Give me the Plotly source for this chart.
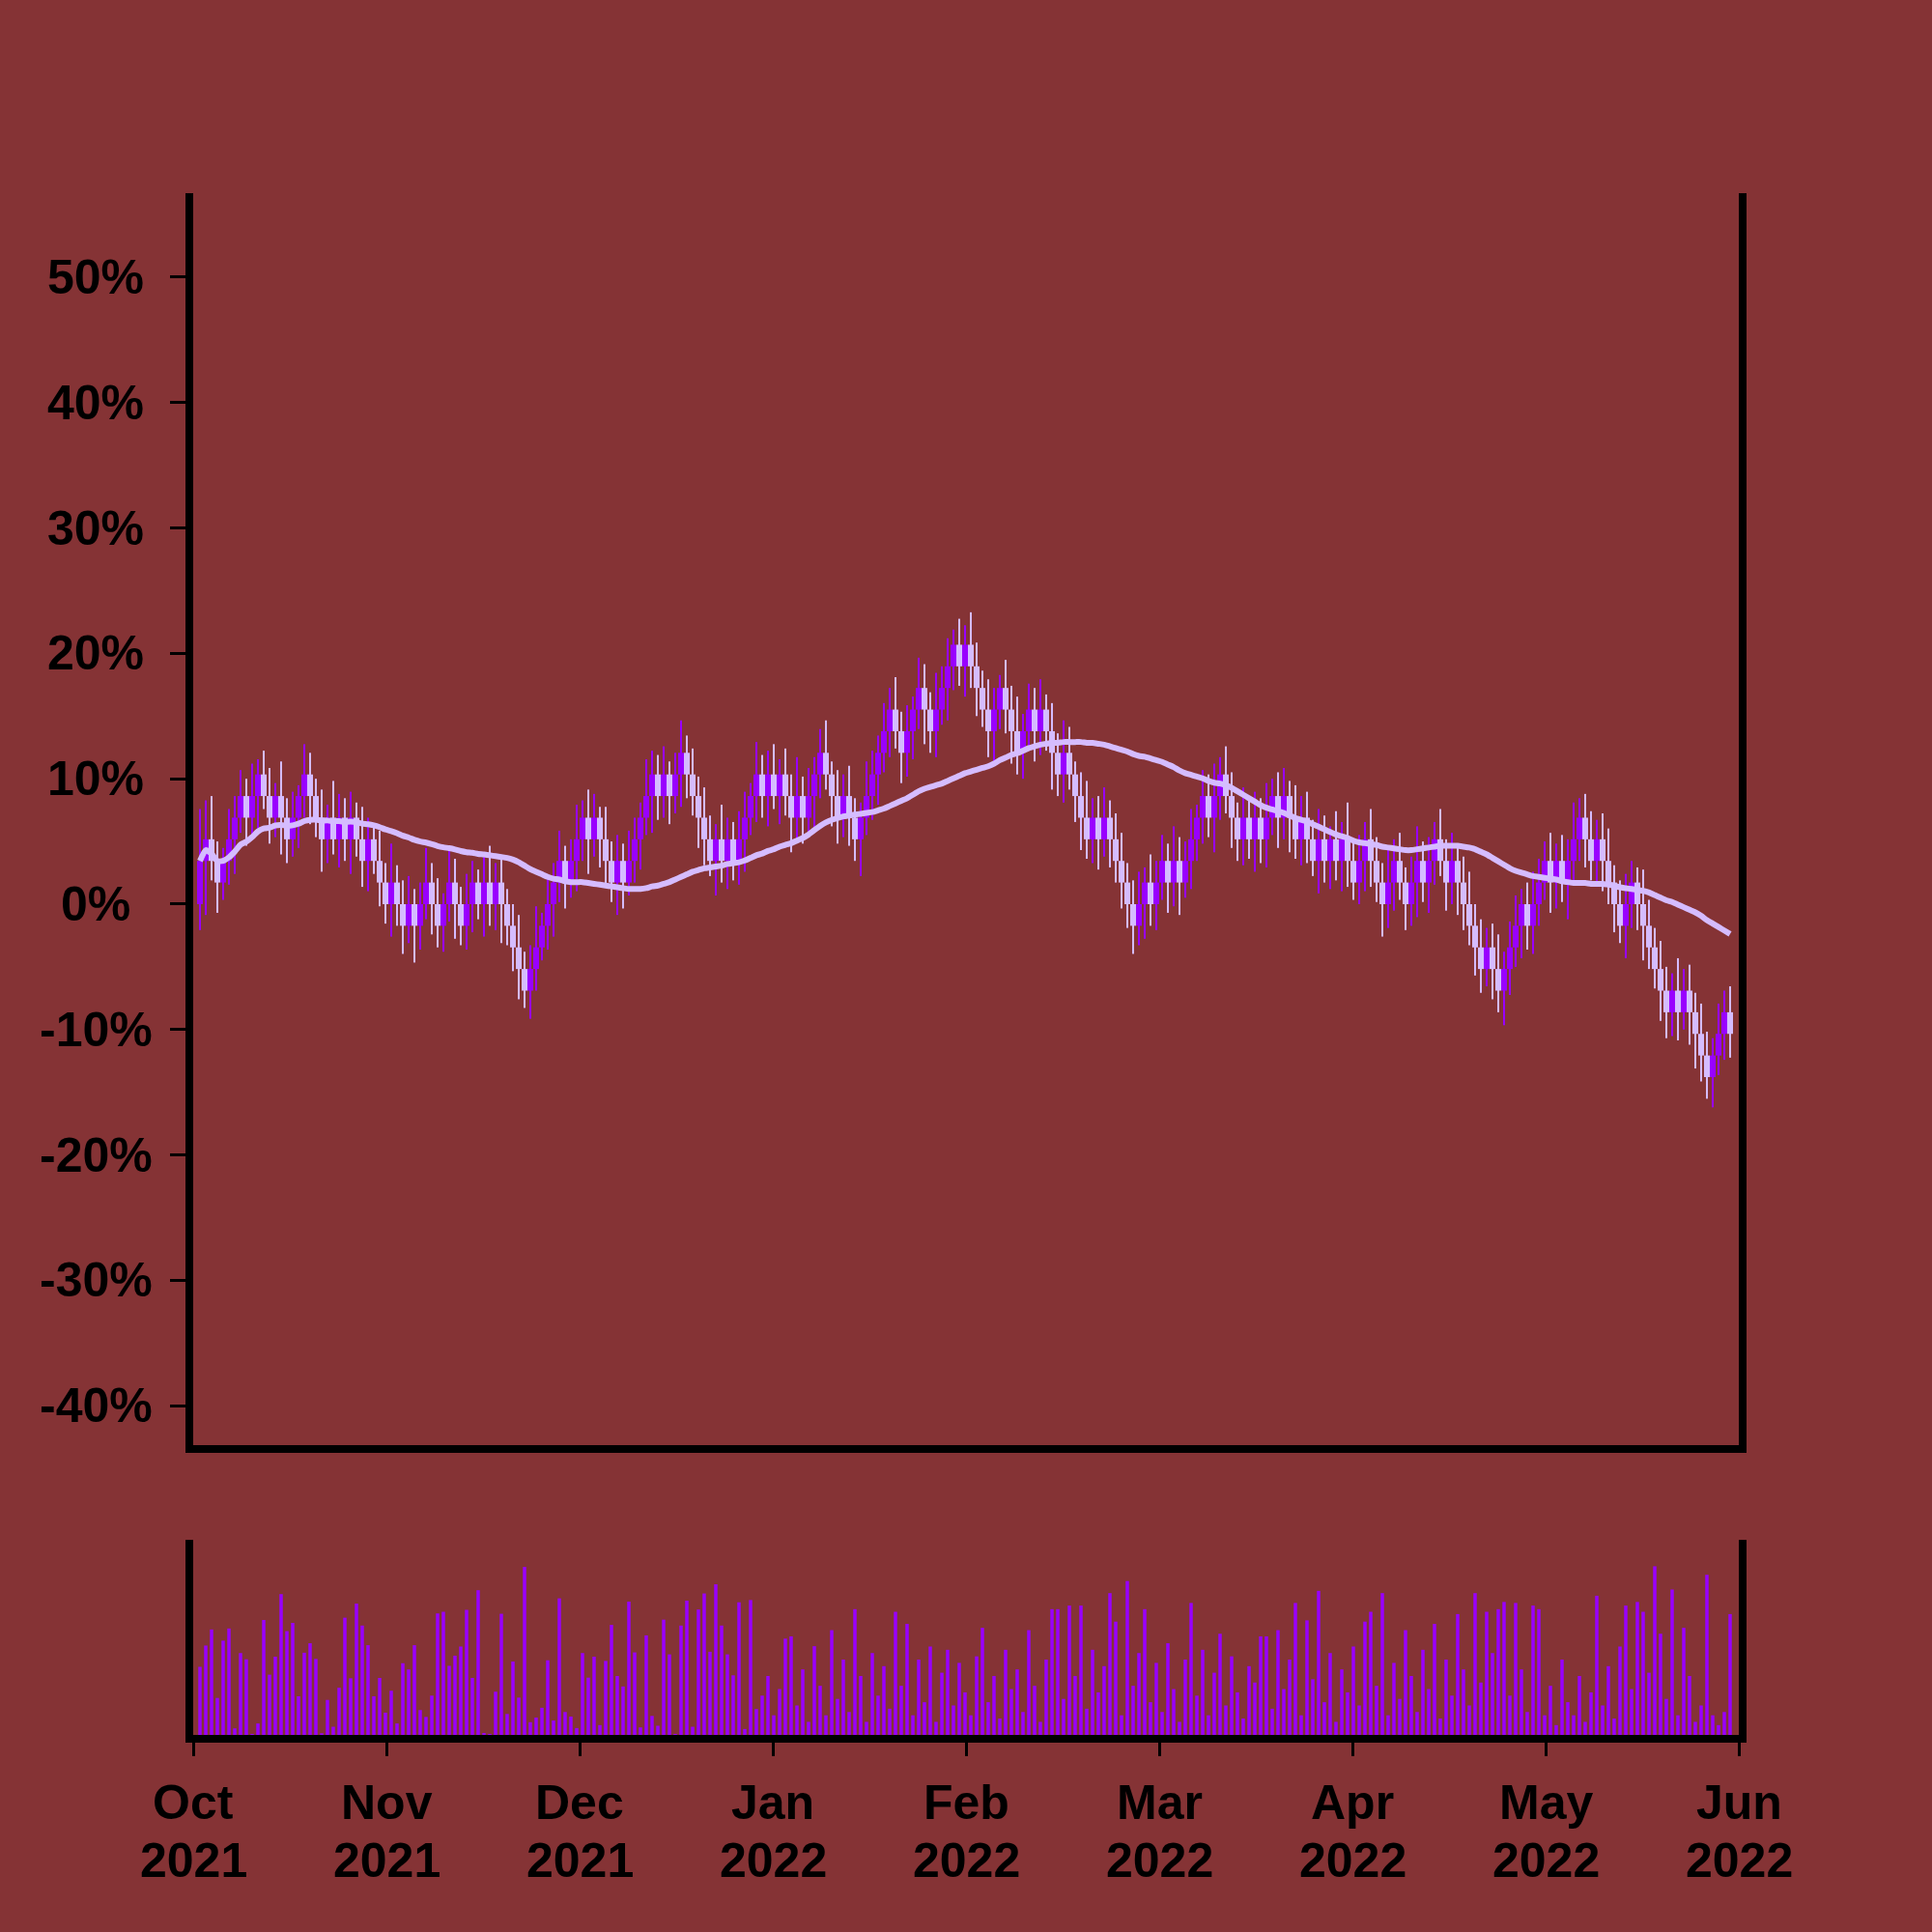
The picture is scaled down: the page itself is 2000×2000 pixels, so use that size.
import plotly.graph_objects as go
import pandas as pd

BG = "#853335"
UP = "#9900FF"
DOWN = "#D5BCFF"

# ---- data (prices; percent change is measured against base_px) ----
base_px = 58
first_open_px = 58
close_px = [
    60,61,60,59,60,61,62,63,62,63, 64,63,62,63,62,61,62,63,64,63,
    62,61,62,61,62,61,62,61,60,61, 60,59,58,59,58,57,58,57,58,59,
    58,57,58,59,58,57,58,59,58,59, 58,59,58,57,56,55,54,55,56,57,
    58,59,60,59,60,61,62,61,62,61, 60,59,60,59,60,61,62,63,64,63,
    64,63,64,65,64,63,62,61,60,61, 60,61,60,61,62,63,64,63,64,63,
    64,63,62,63,62,63,64,65,64,63, 62,63,62,61,62,63,64,65,66,67,
    66,65,66,67,68,67,66,67,68,69, 70,69,70,69,68,67,66,67,68,67,
    66,65,66,67,66,67,66,65,64,65, 64,63,62,61,62,61,62,61,60,59,
    58,57,58,59,58,59,60,59,60,59, 60,61,62,63,62,63,64,63,62,61,
    62,61,62,61,62,63,62,63,62,61, 62,61,60,61,60,61,60,61,60,59,
    60,61,60,59,58,59,60,59,58,59, 60,59,60,61,60,59,60,59,58,57,
    56,55,56,55,54,55,56,57,58,57, 58,59,60,59,60,59,60,61,62,61,
    60,61,60,59,58,57,58,59,58,57, 56,55,54,53,54,53,54,53,52,51,
    50,51,52,53,52,
]
# wick lengths beyond the body, in tenths of a price unit
upper_wick = [
    24,18,20,9,6,14,10,12,8,15,7,11,13,6,16,9,12,5,14,10,
    8,13,6,17,11,9,12,7,15,10,6,14,9,18,8,11,13,7,10,16,
    9,12,5,15,11,8,14,10,6,13,17,9,12,7,10,15,8,11,19,6,
    12,9,14,7,10,16,8,13,11,5,15,9,12,8,14,10,7,17,11,9,
    13,6,10,15,8,12,9,14,11,7,16,10,8,13,12,6,15,9,11,14,
    7,12,10,18,9,13,8,11,15,6,12,10,14,9,7,16,11,8,13,10,
    15,9,12,6,14,11,8,17,10,13,7,12,9,15,11,8,14,10,6,13,
    11,16,8,12,10,14,7,13,9,15,12,6,11,17,9,10,14,8,12,13,
    9,11,15,7,13,10,12,8,16,11,9,14,6,12,10,15,8,13,11,7,
    14,10,12,9,16,8,11,13,7,15,10,12,9,14,11,6,13,8,17,10,
    12,8,14,11,9,15,10,13,7,12,16,9,11,8,14,10,13,6,12,15,
    10,13,9,11,16,8,12,14,7,10,15,11,9,13,8,12,10,17,9,11,
    13,9,12,15,8,11,14,10,7,16,12,9,13,11,8,15,10,12,9,14,
    11,8,14,10,12,
]
lower_wick = [
    12,25,9,14,8,11,16,7,13,10,15,6,12,9,17,11,8,14,10,13,
    9,15,11,7,13,10,16,8,12,14,6,11,9,15,10,13,8,17,11,7,
    14,10,12,8,16,9,11,13,7,15,10,12,18,9,11,14,8,13,10,6,
    11,15,9,12,7,14,10,16,8,13,11,9,15,12,6,10,14,8,17,11,
    10,13,8,15,11,9,14,12,7,16,10,13,9,11,15,8,12,10,14,6,
    13,9,16,10,12,8,15,11,7,14,12,9,13,10,17,8,11,14,9,12,
    8,14,11,13,9,16,10,12,7,15,11,9,14,10,13,8,12,16,9,11,
    15,10,12,8,14,11,9,17,10,13,7,12,15,9,11,14,8,13,10,12,
    11,13,9,16,10,12,8,14,11,15,7,13,10,12,9,16,11,8,14,10,
    12,9,15,11,13,8,14,10,16,9,12,11,7,15,10,13,9,14,12,8,
    10,14,12,9,15,11,13,8,12,10,16,9,14,11,7,13,10,15,12,9,
    13,11,8,14,10,16,12,9,15,11,13,10,8,14,12,9,17,11,10,13,
    9,12,14,10,13,8,15,11,12,16,10,9,14,12,11,13,8,15,16,12,
    10,14,9,12,11,
]
volume = [
    208,273,322,113,288,325,20,250,231,2, 35,351,184,239,430,317,342,118,251,280,
    232,5,107,25,144,358,173,401,334,274, 118,174,68,135,35,219,200,274,76,55,
    120,371,376,211,242,270,382,174,442,6, 2,132,370,64,224,114,513,39,53,83,
    228,44,417,70,56,21,250,175,239,30, 226,336,180,148,407,252,23,304,58,28,
    352,246,2,334,410,25,383,432,254,460, 334,246,182,405,18,412,79,120,
    180,60,140,294,301,90,200,40,271,150, 60,320,110,230,70,384,180,40,250,120,
    210,80,376,150,339,60,230,100,270,40, 190,260,90,220,130,60,240,327,100,180,
    50,260,140,200,70,320,150,40,230,384, 384,110,395,180,395,80,260,130,210,433,
    346,60,470,150,250,384,100,220,70,280, 140,40,230,403,120,260,60,190,309,90,
    240,130,50,210,160,301,301,80,320,140, 230,403,60,350,170,440,100,250,40,200,
    130,270,90,346,376,150,433,60,220,110, 320,180,70,260,140,339,50,230,120,369,
    200,90,433,160,376,250,384,406,120,403, 200,70,395,384,60,150,30,230,100,60,
    180,40,130,425,90,210,50,270,395,140, 406,376,190,515,309,110,444,60,327,180,
    40,90,489,60,30,70,369,
]
months = ["Oct", "Nov", "Dec", "Jan", "Feb", "Mar", "Apr", "May", "Jun"]
years = ["2021", "2021", "2021", "2022", "2022", "2022", "2022", "2022", "2022"]
y_tick_values = [-40, -30, -20, -10, 0, 10, 20, 30, 40, 50]
y_tick_labels = ["-40%", "-30%", "-20%", "-10%", "0%", "10%", "20%", "30%", "40%", "50%"]
ma_window = 50

# ---- derived ----
n = len(close_px)
idx = list(range(n))
open_px = [first_open_px] + close_px[:-1]
high_px = [max(o, c) + u / 10 for o, c, u in zip(open_px, close_px, upper_wick)]
low_px = [min(o, c) - d / 10 for o, c, d in zip(open_px, close_px, lower_wick)]


def pct(vals):
    return [(v / base_px - 1) * 100 for v in vals]


o_pct, h_pct, l_pct, c_pct = pct(open_px), pct(high_px), pct(low_px), pct(close_px)
ma = pd.Series(c_pct).rolling(ma_window, min_periods=1).mean().tolist()
colors = [UP if c > o else DOWN for o, c in zip(o_pct, c_pct)]
body_base = [min(o, c) for o, c in zip(o_pct, c_pct)]
body_len = [abs(c - o) for o, c in zip(o_pct, c_pct)]
wick_len = [h - l for h, l in zip(h_pct, l_pct)]

x_lo = -7 / 6
x_hi = x_lo + 1600 / 6
month_pos = [x_lo + k * (x_hi - x_lo) / 8 for k in range(9)]

YFONT = dict(family="Liberation Sans, Arial, sans-serif", size=50, color="black", weight="bold")
XFONT = dict(family="Liberation Sans, Arial, sans-serif", size=50, color="black", weight="bold")

fig = go.Figure()
# volume
fig.add_trace(go.Bar(x=idx, y=volume[:n], xaxis="x2", yaxis="y2", marker_color=UP,
                     marker_line_width=0, width=0.58, name="Volume"))
# candle wicks (high-low)
fig.add_trace(go.Bar(x=idx, y=wick_len, base=l_pct, width=0.34, marker_color=colors,
                     marker_line_width=0, xaxis="x", yaxis="y", name="High-Low"))
# candle bodies (open-close)
fig.add_trace(go.Bar(x=idx, y=body_len, base=body_base, width=1.0, marker_color=colors,
                     marker_line_width=0, xaxis="x", yaxis="y", name="Open-Close"))
# moving average
fig.add_trace(go.Scatter(x=idx, y=ma, mode="lines",
                         line=dict(color=DOWN, width=6, shape="spline", smoothing=0.6),
                         xaxis="x", yaxis="y", name="MA"))

annotations = []
for v, t in zip(y_tick_values, y_tick_labels):
    annotations.append(dict(text=t, xref="paper", x=-0.063, yref="y", y=v, showarrow=False,
                            xanchor="center", yanchor="middle", font=YFONT))
for p, m, yr in zip(month_pos, months, years):
    annotations.append(dict(text=m, xref="x2", x=p, yref="paper", y=-0.0439, showarrow=False,
                            xanchor="center", yanchor="middle", font=XFONT))
    annotations.append(dict(text=yr, xref="x2", x=p, yref="paper", y=-0.0815, showarrow=False,
                            xanchor="center", yanchor="middle", font=XFONT))

fig.update_layout(
    width=2000, height=2000,
    paper_bgcolor=BG, plot_bgcolor=BG,
    margin=dict(l=200, r=200, t=200, b=204),
    showlegend=False,
    barmode="overlay",
    annotations=annotations,
    xaxis=dict(domain=[0, 1], anchor="y", range=[x_lo, x_hi], showline=True, linewidth=8,
               linecolor="black", showticklabels=False, ticks="", showgrid=False,
               zeroline=False),
    yaxis=dict(domain=[0.188, 1], anchor="x", range=[-43.14, 56.70], tickvals=y_tick_values,
               showticklabels=False, ticks="outside", ticklen=16, tickwidth=3,
               tickcolor="black", showline=True, linewidth=8, linecolor="black", mirror=True,
               showgrid=False, zeroline=False),
    xaxis2=dict(domain=[0, 1], anchor="y2", range=[x_lo, x_hi], tickvals=month_pos,
                showticklabels=False, ticks="outside", ticklen=14, tickwidth=3,
                tickcolor="black", showline=True, linewidth=8, linecolor="black",
                showgrid=False, zeroline=False),
    yaxis2=dict(domain=[0, 0.1266], anchor="x2", range=[0, 596], showticklabels=False,
                ticks="", showline=True, linewidth=8, linecolor="black", mirror=True,
                showgrid=False, zeroline=False),
)

fig.write_html("out.html", config={"displayModeBar": False},
               post_script="document.body.style.margin='0';")
